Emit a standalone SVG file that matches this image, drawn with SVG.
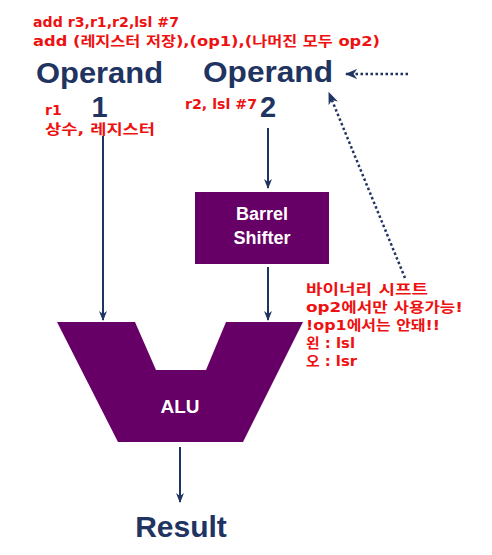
<svg xmlns="http://www.w3.org/2000/svg" width="492" height="555" viewBox="0 0 492 555">
<style>
.op{font-family:"Liberation Sans",Arial,sans-serif;font-weight:bold;fill:#1f3461}
.red{font-family:"DejaVu Sans","Noto Sans CJK KR",sans-serif;font-weight:bold;fill:#ee1111;font-size:14px}
.wh{font-family:"Liberation Sans",Arial,sans-serif;font-weight:bold;fill:#ffffff;text-anchor:middle}
.ln{stroke:#1f3461;stroke-width:2;fill:none}
.dot{stroke:#1f3461;stroke-width:2.5;stroke-dasharray:2.5 2.5;fill:none}
</style>
<defs>
<marker id="ah" viewBox="0 0 10 10" refX="9" refY="5" markerWidth="5" markerHeight="5" orient="auto" markerUnits="strokeWidth">
<path d="M0,1 L10,5 L0,9 L3,5 Z" fill="#1f3461"/>
</marker>
</defs>
<rect width="492" height="555" fill="#ffffff"/>
<g id="notes-top">
<text class="red" x="33" y="27" textLength="146" lengthAdjust="spacingAndGlyphs">add r3,r1,r2,lsl #7</text>
<text class="red" x="33" y="46" textLength="347" lengthAdjust="spacingAndGlyphs">add (레지스터 저장),(op1),(나머진 모두 op2)</text>
</g>
<g id="operand1">
<text class="op" x="36" y="83" font-size="29" textLength="127" lengthAdjust="spacingAndGlyphs">Operand</text>
<text class="op" x="99.5" y="117" font-size="29" text-anchor="middle">1</text>
<text class="red" x="45" y="115">r1</text>
<text class="red" x="45" y="134" textLength="110" lengthAdjust="spacingAndGlyphs">상수, 레지스터</text>
</g>
<g id="operand2">
<text class="op" x="203" y="82" font-size="29" textLength="130" lengthAdjust="spacingAndGlyphs">Operand</text>
<text class="op" x="268" y="117" font-size="29" text-anchor="middle">2</text>
<text class="red" x="185" y="109" textLength="72" lengthAdjust="spacingAndGlyphs">r2, lsl #7</text>
</g>
<g id="barrel-shifter">
<rect x="195" y="192" width="134" height="72" fill="#660066"/>
<text class="wh" x="262" y="220" font-size="18">Barrel</text>
<text class="wh" x="262" y="244" font-size="18">Shifter</text>
</g>
<g id="alu">
<polygon points="57,322 135,322 156,370 206,370 226,322 303,322 243,442 118,442" fill="#660066"/>
<text class="wh" x="180" y="413" font-size="19">ALU</text>
</g>
<g id="result">
<text class="op" x="181" y="537" font-size="30" text-anchor="middle">Result</text>
</g>
<g id="notes-right">
<text class="red" x="306" y="294" textLength="122" lengthAdjust="spacingAndGlyphs">바이너리 시프트</text>
<text class="red" x="306" y="312" textLength="157" lengthAdjust="spacingAndGlyphs">op2에서만 사용가능!</text>
<text class="red" x="306" y="330" textLength="134" lengthAdjust="spacingAndGlyphs">!op1에서는 안돼!!</text>
<text class="red" x="306" y="348" textLength="49" lengthAdjust="spacingAndGlyphs">왼 : lsl</text>
<text class="red" x="306" y="366" textLength="51" lengthAdjust="spacingAndGlyphs">오 : lsr</text>
</g>
<g id="connectors">
<line class="ln" x1="103" y1="136" x2="103" y2="320" marker-end="url(#ah)"/>
<line class="ln" x1="268" y1="128" x2="268" y2="188" marker-end="url(#ah)"/>
<line class="ln" x1="268" y1="267" x2="268" y2="320" marker-end="url(#ah)"/>
<line class="ln" x1="180" y1="447" x2="180" y2="502" marker-end="url(#ah)"/>
<line class="dot" x1="408" y1="74" x2="346" y2="74" marker-end="url(#ah)"/>
<line class="dot" x1="405" y1="278" x2="329" y2="93" marker-end="url(#ah)"/>
</g>
</svg>
